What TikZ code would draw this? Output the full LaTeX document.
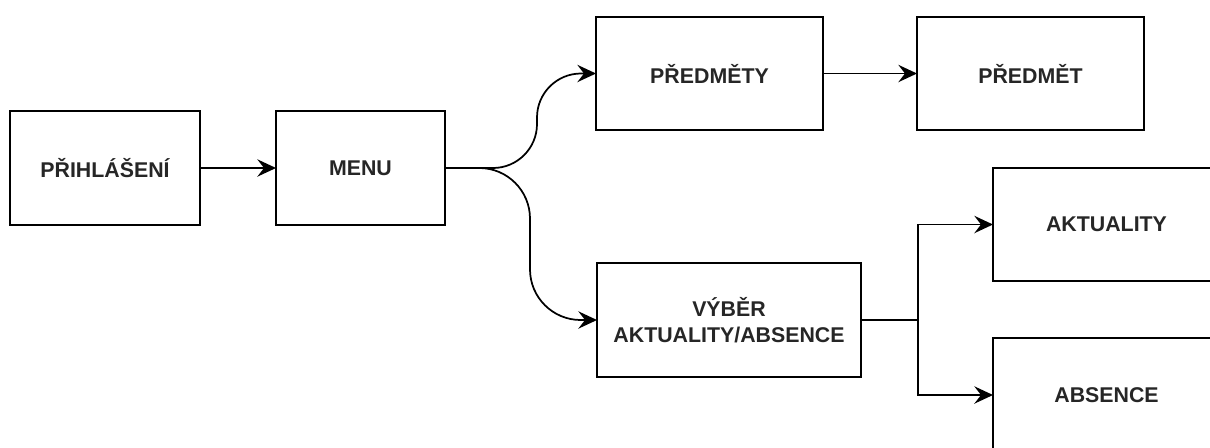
\documentclass[tikz,border=0pt]{standalone}
\usepackage{fontspec}
\setmainfont{Liberation Sans}
\usetikzlibrary{arrows.meta, positioning, calc}

\tikzset{
	screen/.style={draw, line width=1.4pt, align=center, inner sep=0pt, outer sep=0pt,
		font=\fontsize{16}{19.5}\selectfont\bfseries, text=black!85},
	link/.style={line width=1.3pt, arrows={-Stealth[length=14pt, width=13pt, inset=5pt, fill=black]}}
}

\begin{document}
\begin{tikzpicture}[x=0.75pt, y=-0.75pt]
	\useasboundingbox (0,0) rectangle (1210,447);
	\clip (0,0) rectangle (1210,447);

	\node [screen, minimum width=142.5pt, minimum height=85.5pt] (prihlaseni) at (105,168) {PŘIHLÁŠENÍ};
	\node [screen, minimum width=126.75pt, minimum height=85.5pt, right=57pt of prihlaseni] (menu) {MENU};
	\node [screen, minimum width=170.25pt, minimum height=84.75pt] (predmety) at (709.5,73.5) {PŘEDMĚTY};
	\node [screen, minimum width=170.25pt, minimum height=84.75pt, right=70.5pt of predmety] (predmet) {PŘEDMĚT};
	\node [screen, minimum width=198pt, minimum height=85.5pt] (vyber) at (729,320) {VÝBĚR\\AKTUALITY/ABSENCE};
	\node [screen, minimum width=170.25pt, minimum height=84.75pt] (aktuality) at (1106.5,224.5) {AKTUALITY};
	\node [screen, minimum width=170.25pt, minimum height=85.5pt, below=42.75pt of aktuality] (absence) {ABSENCE};

	\coordinate (split) at (918,320);

	\draw[link] (prihlaseni) -- (menu);
	% menu branches
	\draw[link, rounded corners=33pt] (menu.east) -- ++(92,0) |- (predmety.west);
	\draw[link, rounded corners=38pt] (menu.east) -- ++(85,0) |- (vyber.west);
	\draw[link] (predmety) -- (predmet);
	\draw[line width=1.3pt] (vyber.east) -- (split);
	\draw[link] (split) |- (aktuality.west);
	\draw[link] (split) |- (absence.west);

\end{tikzpicture}
\end{document}
